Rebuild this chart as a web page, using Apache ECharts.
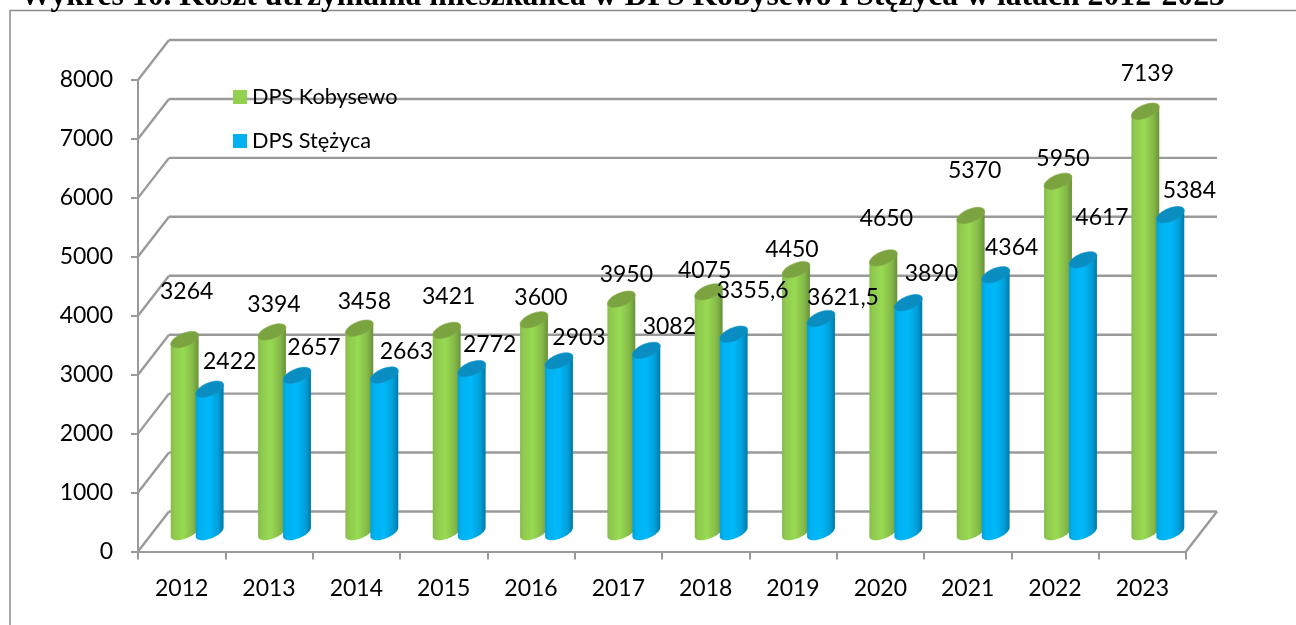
<!DOCTYPE html>
<html><head><meta charset="utf-8">
<style>html,body{margin:0;padding:0;background:#fff}#c{width:1296px;height:625px}</style>
<script src="https://cdn.jsdelivr.net/npm/echarts@6/dist/echarts.min.js"></script>
</head><body><div id="c"></div>
<script>
const titleText = 'Wykres 10. Koszt utrzymania mieszkańca w DPS Kobysewo i Stężyca w latach 2012-2023';
const categories = ['2012','2013','2014','2015','2016','2017','2018','2019','2020','2021','2022','2023'];
const kobysewo = [3264,3394,3458,3421,3600,3950,4075,4450,4650,5370,5950,7139];
const stezyca = [2422,2657,2663,2772,2903,3082,3355.6,3621.5,3890,4364,4617,5384];
const yTicks = [0,1000,2000,3000,4000,5000,6000,7000,8000];
const kobysewoLabelShift = [[2,-48],[2,-27],[5,-27],[2,-34],[7,-22],[5,-25],[-4,-21],[-4,-20],[3,-39],[4,-45],[5,-23],[2,-38]];
const stezycaLabelShift = [[20,-28],[17,-28],[22,-23],[18,-24],[20,-23],[23,-24],[19,-44],[22,-21],[23,-29],[16,-27],[19,-42],[19,-24]];

const FONT = 'Lato';
const GREY = '#9a9a9a';
const DEPTH = [31, -40];
const RX = 14.8, RY = 6.5, TILT = 22 * Math.PI / 180;

function ellipsePoint(cx, cy, t) {
  return [
    cx + RX * Math.cos(t) * Math.cos(TILT) + RY * Math.sin(t) * Math.sin(TILT),
    cy - RX * Math.cos(t) * Math.sin(TILT) + RY * Math.sin(t) * Math.cos(TILT)
  ];
}
function ellipseArc(cx, cy, t0, t1, n) {
  const pts = [];
  for (let k = 0; k <= n; k++) pts.push(ellipsePoint(cx, cy, t0 + (t1 - t0) * k / n));
  return pts;
}
function hGrad(stops) {
  return {type:'linear',x:0,y:0,x2:1,y2:0,colorStops:stops.map(s=>({offset:s[0],color:s[1]}))};
}
function cylinder(xShift, body, cap, capEdge, labels, shifts) {
  return function (params, api) {
    const i = api.value(0), v = api.value(1);
    const base = api.coord([i, 0]), top = api.coord([i, v]);
    const cx = base[0] + xShift, by = base[1] - 19.5, ty = top[1] - 19.5;
    const tA = Math.atan2(RY * Math.sin(TILT), RX * Math.cos(TILT));
    const lower = ellipseArc(cx, by, tA, tA + Math.PI, 28);
    const bodyPts = [ellipsePoint(cx, ty, tA + Math.PI), ellipsePoint(cx, ty, tA)].concat(lower);
    const capPts = ellipseArc(cx, ty, 0, 2 * Math.PI, 40);
    const s = shifts[i];
    return {type:'group', children:[
      {type:'polygon', shape:{points:bodyPts}, style:{fill:hGrad(body)}},
      {type:'polygon', shape:{points:capPts}, style:{fill:cap, stroke:capEdge, lineWidth:0.6}},
      {type:'text', z2:100, style:{text:labels[i], x:cx+s[0], y:ty+s[1], align:'center', verticalAlign:'middle',
        font:'23px '+FONT, fill:'#000'}}
    ]};
  };
}
const fmt = a => a.map(v => String(v).replace('.', ','));

const chart = echarts.init(document.getElementById('c'), null, {renderer:'canvas'});
chart.setOption({
  animation:false,
  backgroundColor:'#fff',
  title:{text:titleText,left:15,top:-24,textStyle:{fontFamily:'Liberation Serif',fontWeight:'bold',fontSize:31.7,color:'#000'}},
  legend:{data:['DPS Kobysewo','DPS Stężyca'],orient:'vertical',left:228,top:81,itemWidth:14,itemHeight:14,itemGap:22,icon:'rect',
    textStyle:{fontFamily:FONT,fontSize:21.7,color:'#000'}},
  grid:{left:138,right:110,top:80,bottom:73.5},
  xAxis:{type:'category',data:categories,boundaryGap:true,
    axisLine:{lineStyle:{color:GREY,width:2}},
    axisTick:{show:true,length:8,lineStyle:{color:GREY,width:2}},
    axisLabel:{fontFamily:FONT,fontSize:23,color:'#000',margin:26},splitLine:{show:false}},
  yAxis:{type:'value',min:0,max:8000,interval:1000,
    axisLine:{show:true,lineStyle:{color:GREY,width:2}},
    axisTick:{show:true,length:7,lineStyle:{color:GREY,width:2}},
    axisLabel:{fontFamily:FONT,fontSize:23,color:'#000',margin:25,formatter:v=>String(v)},splitLine:{show:false}},
  graphic:{elements:[{type:'polyline',silent:true,z:-1,shape:{points:[[10,625],[10,10.5],[1296,10.5]]},style:{stroke:'#8c8c8c',lineWidth:1.5,fill:null}}]},
  series:[
    {name:'wall',type:'custom',coordinateSystem:'cartesian2d',z:1,silent:true,clip:false,
      data:yTicks.map(t=>[0,t]),encode:{x:0,y:1},
      renderItem(params,api){
        const v=api.value(1), p=api.coord([0,v]);
        const x0=params.coordSys.x, x1=x0+params.coordSys.width, y=p[1];
        const st={stroke:GREY,lineWidth:2.4,fill:null};
        const kids=[
          {type:'line',shape:{x1:x0,y1:y,x2:x0+DEPTH[0],y2:y+DEPTH[1]},style:st},
          {type:'line',shape:{x1:x0+DEPTH[0],y1:y+DEPTH[1],x2:x1+DEPTH[0],y2:y+DEPTH[1]},style:st}];
        if(v===0)kids.push({type:'line',shape:{x1:x1,y1:y,x2:x1+DEPTH[0],y2:y+DEPTH[1]},style:st});
        return {type:'group',children:kids};
      }},
    {name:'DPS Kobysewo',type:'custom',coordinateSystem:'cartesian2d',z:3,clip:false,silent:true,
      itemStyle:{color:'#92d050'},data:kobysewo.map((v,i)=>[i,v]),encode:{x:0,y:1},
      renderItem:cylinder(3,[[0,'#86bb4a'],[0.12,'#8fc94e'],[0.45,'#98db52'],[0.8,'#84b848'],[1,'#68913a']],'#7ba340','#86ad48',fmt(kobysewo),kobysewoLabelShift)},
    {name:'DPS Stężyca',type:'custom',coordinateSystem:'cartesian2d',z:3,clip:false,silent:true,
      itemStyle:{color:'#00b0f0'},data:stezyca.map((v,i)=>[i,v]),encode:{x:0,y:1},
      renderItem:cylinder(28,[[0,'#00a2dd'],[0.15,'#00b2f2'],[0.5,'#00b8f8'],[0.8,'#00a0da'],[1,'#0079a6']],'#0a8dc0','#1098cc',fmt(stezyca),stezycaLabelShift)}
  ]
});
</script></body></html>
